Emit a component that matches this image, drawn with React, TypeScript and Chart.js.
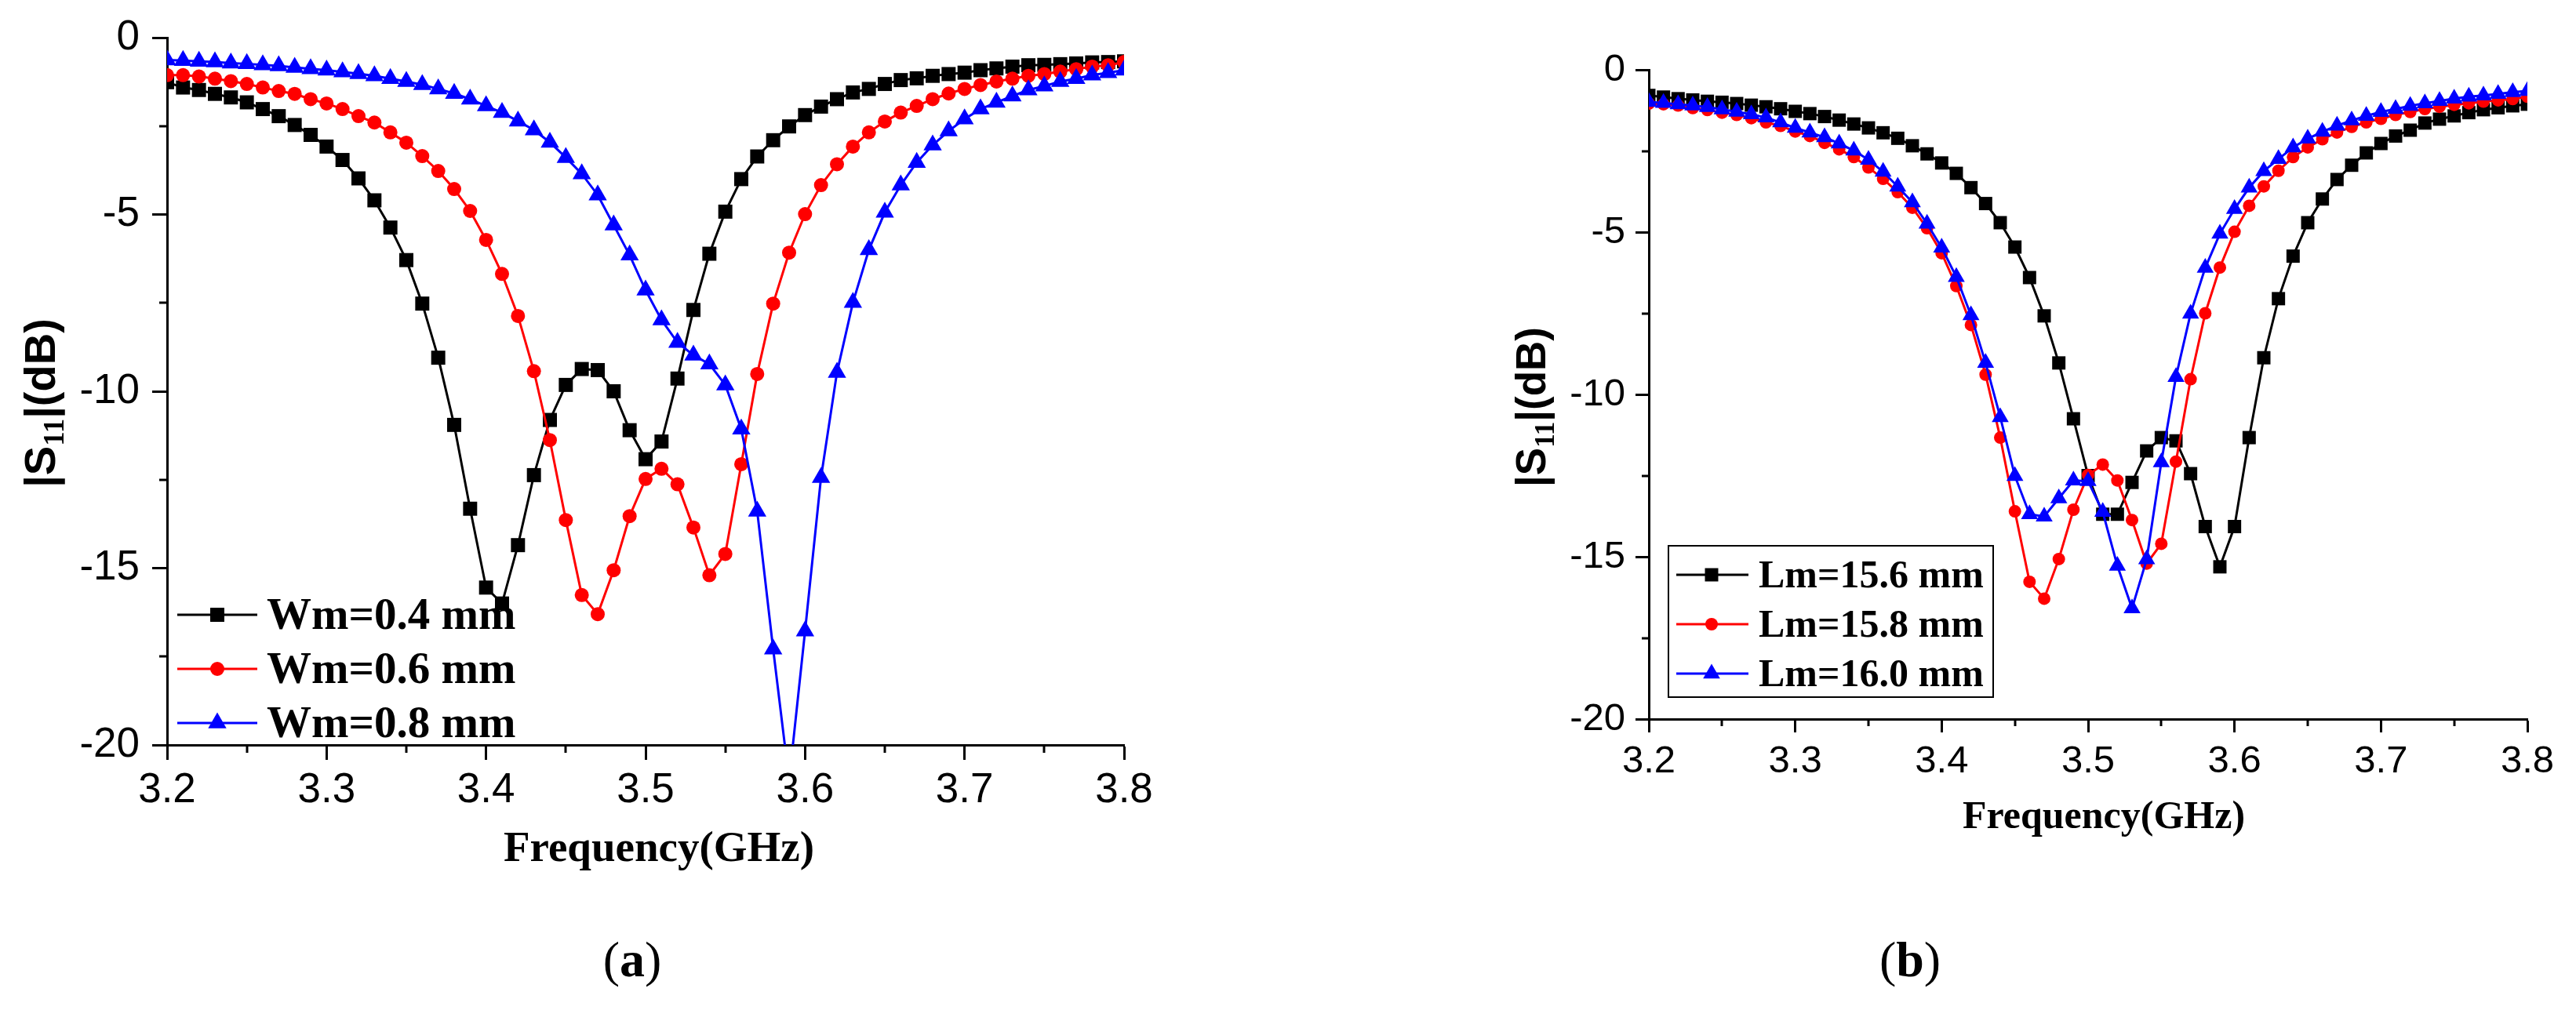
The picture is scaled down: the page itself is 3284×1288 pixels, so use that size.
import React, { useEffect, useRef } from 'react';
import { Chart, registerables } from 'chart.js';

Chart.register(...registerables);

// ---------------- data ----------------
const FREQ_GHZ = [
  3.20, 3.21, 3.22, 3.23, 3.24, 3.25, 3.26, 3.27, 3.28, 3.29,
  3.30, 3.31, 3.32, 3.33, 3.34, 3.35, 3.36, 3.37, 3.38, 3.39,
  3.40, 3.41, 3.42, 3.43, 3.44, 3.45, 3.46, 3.47, 3.48, 3.49,
  3.50, 3.51, 3.52, 3.53, 3.54, 3.55, 3.56, 3.57, 3.58, 3.59,
  3.60, 3.61, 3.62, 3.63, 3.64, 3.65, 3.66, 3.67, 3.68, 3.69,
  3.70, 3.71, 3.72, 3.73, 3.74, 3.75, 3.76, 3.77, 3.78, 3.79, 3.80,
];

const X_TICK_VALUES = [3.2, 3.3, 3.4, 3.5, 3.6, 3.7, 3.8];
const X_TICK_LABELS = ['3.2', '3.3', '3.4', '3.5', '3.6', '3.7', '3.8'];
const X_MINOR_TICKS = [3.25, 3.35, 3.45, 3.55, 3.65, 3.75];
const Y_TICK_VALUES = [0, -5, -10, -15, -20];
const Y_TICK_LABELS = ['0', '-5', '-10', '-15', '-20'];
const Y_MINOR_TICKS = [-2.5, -7.5, -12.5, -17.5];

const X_AXIS_TITLE = 'Frequency(GHz)';
const CAPTIONS = ['a', 'b'];

// (a) strip width Wm
const WM_LABELS = ['Wm=0.4 mm', 'Wm=0.6 mm', 'Wm=0.8 mm'];
const S11_WM_04 = [
  -1.26, -1.41, -1.48, -1.59, -1.69, -1.83, -2.02, -2.22, -2.47, -2.75,
  -3.08, -3.46, -3.98, -4.60, -5.37, -6.29, -7.52, -9.05, -10.95, -13.32,
  -15.55, -16.00, -14.35, -12.37, -10.81, -9.82, -9.37, -9.40, -10.00, -11.10,
  -11.92, -11.42, -9.64, -7.70, -6.11, -4.92, -4.00, -3.36, -2.90, -2.51,
  -2.19, -1.95, -1.74, -1.55, -1.45, -1.31, -1.20, -1.15, -1.08, -1.03,
  -0.99, -0.92, -0.87, -0.82, -0.78, -0.77, -0.75, -0.73, -0.70, -0.69, -0.67,
];
const S11_WM_06 = [
  -1.06, -1.06, -1.10, -1.16, -1.23, -1.31, -1.41, -1.51, -1.59, -1.74,
  -1.86, -2.02, -2.22, -2.40, -2.68, -2.97, -3.35, -3.77, -4.28, -4.90,
  -5.72, -6.68, -7.87, -9.43, -11.38, -13.64, -15.76, -16.30, -15.06, -13.53,
  -12.48, -12.19, -12.63, -13.85, -15.20, -14.60, -12.06, -9.51, -7.52, -6.08,
  -4.99, -4.17, -3.58, -3.08, -2.68, -2.37, -2.12, -1.93, -1.74, -1.58,
  -1.45, -1.34, -1.24, -1.16, -1.08, -1.03, -0.96, -0.89, -0.82, -0.78, -0.69,
];
const S11_WM_08 = [
  -0.63, -0.65, -0.67, -0.69, -0.72, -0.74, -0.77, -0.80, -0.84, -0.88,
  -0.92, -0.97, -1.02, -1.08, -1.16, -1.24, -1.33, -1.45, -1.58, -1.74,
  -1.93, -2.12, -2.36, -2.61, -2.96, -3.39, -3.85, -4.45, -5.30, -6.15,
  -7.14, -7.98, -8.62, -8.98, -9.23, -9.82, -11.07, -13.39, -17.29, -21.00,
  -16.78, -12.44, -9.47, -7.49, -6.00, -4.94, -4.17, -3.53, -3.04, -2.64,
  -2.30, -2.02, -1.83, -1.65, -1.48, -1.37, -1.24, -1.16, -1.06, -0.99, -0.92,
];

// (b) strip length Lm
const LM_LABELS = ['Lm=15.6 mm', 'Lm=15.8 mm', 'Lm=16.0 mm'];
const S11_LM_156 = [
  -0.79, -0.84, -0.89, -0.93, -0.97, -1.00, -1.04, -1.09, -1.14, -1.20,
  -1.28, -1.35, -1.44, -1.55, -1.67, -1.79, -1.94, -2.11, -2.34, -2.59,
  -2.87, -3.19, -3.63, -4.12, -4.71, -5.46, -6.40, -7.58, -9.03, -10.75,
  -12.50, -13.69, -13.69, -12.71, -11.74, -11.33, -11.43, -12.44, -14.07, -15.31,
  -14.07, -11.33, -8.87, -7.05, -5.74, -4.71, -3.98, -3.38, -2.94, -2.56,
  -2.27, -2.04, -1.86, -1.64, -1.52, -1.42, -1.32, -1.23, -1.17, -1.11, -1.06,
];
const S11_LM_158 = [
  -1.04, -1.06, -1.10, -1.18, -1.24, -1.32, -1.39, -1.49, -1.62, -1.73,
  -1.90, -2.04, -2.25, -2.45, -2.69, -3.01, -3.36, -3.77, -4.25, -4.88,
  -5.65, -6.66, -7.86, -9.39, -11.33, -13.60, -15.77, -16.29, -15.07, -13.55,
  -12.48, -12.16, -12.65, -13.87, -15.21, -14.60, -12.07, -9.53, -7.50, -6.09,
  -4.99, -4.19, -3.59, -3.11, -2.69, -2.39, -2.14, -1.93, -1.76, -1.62,
  -1.51, -1.39, -1.30, -1.21, -1.14, -1.08, -1.03, -0.98, -0.94, -0.90, -0.83,
];
const S11_LM_160 = [
  -0.99, -1.02, -1.06, -1.10, -1.15, -1.22, -1.29, -1.37, -1.47, -1.62,
  -1.79, -1.93, -2.08, -2.27, -2.49, -2.77, -3.14, -3.60, -4.08, -4.74,
  -5.48, -6.38, -7.56, -9.03, -10.70, -12.51, -13.69, -13.76, -13.20, -12.65,
  -12.67, -13.62, -15.28, -16.59, -15.08, -12.09, -9.46, -7.51, -6.10, -5.05,
  -4.29, -3.63, -3.12, -2.75, -2.39, -2.12, -1.91, -1.72, -1.56, -1.42,
  -1.30, -1.21, -1.11, -1.03, -0.96, -0.89, -0.83, -0.79, -0.74, -0.69, -0.65,
];

const SERIES_COLORS = ['#000000', '#ff0000', '#0000ff'];
const SERIES_MARKERS = ['rect', 'circle', 'triangle'];

// ---------------- layout ----------------
const SANS = "'Liberation Sans', Arial, sans-serif";
const SERIF = "'Liberation Serif', 'Times New Roman', serif";
const X_AXIS_H = 100;

interface Panel {
  canvasLeft: number;
  canvasTop: number;
  width: number;
  height: number;
  area: { left: number; right: number; top: number; bottom: number };
  tickFont: number;
  tickLen: number;
  minorLen: number;
  xPad: number;
  yPad: number;
  axisWidth: number;
  lineWidth: number;
  markerR: number[];
  xTitle: { x: number; y: number; size: number };
  yTitle: { x: number; y: number; size: number };
  legend: {
    rows: number[];
    lineX1: number;
    lineX2: number;
    markerX: number;
    textX: number;
    size: number;
    baseOff: number;
    box?: { l: number; t: number; r: number; b: number };
  };
  labels: string[];
  series: number[][];
}

const PANEL_A: Panel = {
  canvasLeft: 0,
  canvasTop: 0,
  width: 1600,
  height: 1140,
  area: { left: 213, right: 1433, top: 48, bottom: 950 },
  tickFont: 53,
  tickLen: 19,
  minorLen: 10,
  xPad: 8,
  yPad: 16,
  axisWidth: 3,
  lineWidth: 3,
  markerR: [12.7, 9, 13.5],
  xTitle: { x: 840, y: 1098, size: 55 },
  yTitle: { x: 70, y: 514, size: 56 },
  legend: {
    rows: [784, 853, 922],
    lineX1: 226,
    lineX2: 328,
    markerX: 277,
    textX: 340,
    size: 57,
    baseOff: 18,
  },
  labels: WM_LABELS,
  series: [S11_WM_04, S11_WM_06, S11_WM_08],
};

const PANEL_B: Panel = {
  canvasLeft: 1900,
  canvasTop: 0,
  width: 1384,
  height: 1140,
  area: { left: 2102, right: 3222, top: 89, bottom: 917 },
  tickFont: 49,
  tickLen: 17,
  minorLen: 9,
  xPad: 8,
  yPad: 13,
  axisWidth: 3,
  lineWidth: 3,
  markerR: [12, 8, 12.5],
  xTitle: { x: 2682, y: 1056, size: 50 },
  yTitle: { x: 1970, y: 519, size: 53 },
  legend: {
    rows: [733, 796, 859],
    lineX1: 2137,
    lineX2: 2229,
    markerX: 2182,
    textX: 2242,
    size: 50,
    baseOff: 16,
    box: { l: 2127, t: 696, r: 2541, b: 889 },
  },
  labels: LM_LABELS,
  series: [S11_LM_156, S11_LM_158, S11_LM_160],
};

function drawMarker(ctx: CanvasRenderingContext2D, style: string, x: number, y: number, r: number, color: string) {
  ctx.fillStyle = color;
  ctx.beginPath();
  if (style === 'rect') {
    const s = r * Math.SQRT1_2;
    ctx.rect(x - s, y - s, 2 * s, 2 * s);
  } else if (style === 'circle') {
    ctx.arc(x, y, r, 0, Math.PI * 2);
  } else {
    let a = 0;
    ctx.moveTo(x + Math.sin(a) * r, y - Math.cos(a) * r);
    a += (2 * Math.PI) / 3;
    ctx.lineTo(x + Math.sin(a) * r, y - Math.cos(a) * r);
    a += (2 * Math.PI) / 3;
    ctx.lineTo(x + Math.sin(a) * r, y - Math.cos(a) * r);
    ctx.closePath();
  }
  ctx.fill();
}

function makeOverlay(p: Panel) {
  return {
    id: 'overlay',
    afterDraw(chart: any) {
      const ctx: CanvasRenderingContext2D = chart.ctx;
      const xs = chart.scales.x;
      const ys = chart.scales.y;
      const ca = chart.chartArea;
      const ox = p.canvasLeft;
      const oy = p.canvasTop;
      ctx.save();
      // minor ticks
      ctx.strokeStyle = '#000';
      ctx.lineWidth = p.axisWidth;
      ctx.lineCap = 'butt';
      X_MINOR_TICKS.forEach((v) => {
        const px = Math.round(xs.getPixelForValue(v));
        ctx.beginPath();
        ctx.moveTo(px, ca.bottom);
        ctx.lineTo(px, ca.bottom + p.minorLen);
        ctx.stroke();
      });
      Y_MINOR_TICKS.forEach((v) => {
        const py = Math.round(ys.getPixelForValue(v));
        ctx.beginPath();
        ctx.moveTo(ca.left, py);
        ctx.lineTo(ca.left - p.minorLen, py);
        ctx.stroke();
      });

      // x-axis title
      ctx.fillStyle = '#000';
      ctx.font = `bold ${p.xTitle.size}px ${SERIF}`;
      ctx.textAlign = 'center';
      ctx.textBaseline = 'alphabetic';
      ctx.fillText(X_AXIS_TITLE, p.xTitle.x - ox, p.xTitle.y - oy);

      // y-axis title |S11|(dB) with subscript
      const sz = p.yTitle.size;
      const segs = [
        { t: '|', f: `bold ${sz}px ${SANS}`, dy: 0 },
        { t: 'S', f: `bold ${sz}px ${SANS}`, dy: 0 },
        { t: '11', f: `bold ${Math.round(sz * 0.66)}px ${SERIF}`, dy: sz * 0.2 },
        { t: '|(dB)', f: `bold ${sz}px ${SANS}`, dy: 0 },
      ];
      let total = 0;
      const widths = segs.map((s) => {
        ctx.font = s.f;
        const w = ctx.measureText(s.t).width;
        total += w;
        return w;
      });
      ctx.translate(p.yTitle.x - ox, p.yTitle.y - oy);
      ctx.rotate(-Math.PI / 2);
      ctx.textAlign = 'left';
      let cx = -total / 2;
      segs.forEach((s, i) => {
        ctx.font = s.f;
        ctx.fillText(s.t, cx, s.dy);
        cx += widths[i];
      });
      ctx.setTransform(1, 0, 0, 1, 0, 0);

      // legend
      const lg = p.legend;
      if (lg.box) {
        ctx.strokeStyle = '#000';
        ctx.lineWidth = 2;
        ctx.strokeRect(lg.box.l - ox, lg.box.t - oy, lg.box.r - lg.box.l, lg.box.b - lg.box.t);
      }
      p.labels.forEach((lab, i) => {
        const y = lg.rows[i] - oy;
        ctx.strokeStyle = SERIES_COLORS[i];
        ctx.lineWidth = p.lineWidth;
        ctx.beginPath();
        ctx.moveTo(lg.lineX1 - ox, y);
        ctx.lineTo(lg.lineX2 - ox, y);
        ctx.stroke();
        drawMarker(ctx, SERIES_MARKERS[i], lg.markerX - ox, y, p.markerR[i], SERIES_COLORS[i]);
        ctx.fillStyle = '#000';
        ctx.font = `bold ${lg.size}px ${SERIF}`;
        ctx.textAlign = 'left';
        ctx.textBaseline = 'alphabetic';
        ctx.fillText(lab, lg.textX - ox, y + lg.baseOff);
      });
      ctx.restore();
    },
  };
}

function buildChart(canvas: HTMLCanvasElement, p: Panel) {
  const yAxisW = p.area.left - p.canvasLeft;
  return new Chart(canvas, {
    type: 'line',
    data: {
      datasets: p.series.map((d, i) => ({
        label: p.labels[i],
        data: FREQ_GHZ.map((f, k) => ({ x: f, y: d[k] })),
        borderColor: SERIES_COLORS[i],
        backgroundColor: SERIES_COLORS[i],
        borderWidth: p.lineWidth,
        pointStyle: SERIES_MARKERS[i] as any,
        pointRadius: p.markerR[i],
        pointHoverRadius: p.markerR[i],
        pointBorderWidth: 0,
        pointBackgroundColor: SERIES_COLORS[i],
        tension: 0,
        clip: 0,
        order: 2 - i,
      })),
    },
    options: {
      responsive: false,
      animation: false,
      devicePixelRatio: 1,
      events: [],
      layout: {
        padding: {
          left: 0,
          top: p.area.top - p.canvasTop,
          right: p.canvasLeft + p.width - p.area.right,
          bottom: p.canvasTop + p.height - p.area.bottom - X_AXIS_H,
        },
      },
      plugins: {
        legend: { display: false },
        tooltip: { enabled: false },
        title: { display: false },
      },
      scales: {
        x: {
          type: 'linear',
          min: 3.2,
          max: 3.8,
          afterBuildTicks: (s: any) => {
            s.ticks = X_TICK_VALUES.map((value) => ({ value }));
          },
          afterFit: (s: any) => {
            s.height = X_AXIS_H;
          },
          ticks: {
            autoSkip: false,
            maxRotation: 0,
            padding: p.xPad,
            color: '#000',
            font: { family: SANS, size: p.tickFont, weight: 'normal' },
            callback: (v: any) => X_TICK_LABELS[X_TICK_VALUES.indexOf(Number(v))] ?? '',
          },
          grid: {
            drawOnChartArea: false,
            drawTicks: true,
            tickLength: p.tickLen,
            tickWidth: p.axisWidth,
            tickColor: '#000',
          },
          border: { display: true, color: '#000', width: p.axisWidth },
        },
        y: {
          type: 'linear',
          min: -20,
          max: 0,
          afterBuildTicks: (s: any) => {
            s.ticks = Y_TICK_VALUES.map((value) => ({ value }));
          },
          afterFit: (s: any) => {
            s.width = yAxisW;
          },
          ticks: {
            autoSkip: false,
            padding: p.yPad,
            color: '#000',
            font: { family: SANS, size: p.tickFont, weight: 'normal' },
            callback: (v: any) => Y_TICK_LABELS[Y_TICK_VALUES.indexOf(Number(v))] ?? '',
          },
          grid: {
            drawOnChartArea: false,
            drawTicks: true,
            tickLength: p.tickLen,
            tickWidth: p.axisWidth,
            tickColor: '#000',
          },
          border: { display: true, color: '#000', width: p.axisWidth },
        },
      },
    } as any,
    plugins: [makeOverlay(p)],
  });
}

function ChartCanvas({ panel }: { panel: Panel }) {
  const ref = useRef<HTMLCanvasElement | null>(null);
  useEffect(() => {
    if (!ref.current) return;
    const chart = buildChart(ref.current, panel);
    return () => chart.destroy();
  }, [panel]);
  return (
    <canvas
      ref={ref}
      width={panel.width}
      height={panel.height}
      style={{
        position: 'absolute',
        left: panel.canvasLeft,
        top: panel.canvasTop,
        width: panel.width,
        height: panel.height,
      }}
    />
  );
}

const captionStyle = (x: number): React.CSSProperties => ({
  position: 'absolute',
  left: x,
  top: 1192,
  transform: 'translateX(-50%)',
  fontFamily: SERIF,
  fontSize: 64,
  lineHeight: '64px',
  color: '#000',
  whiteSpace: 'nowrap',
});

export default function App() {
  return (
    <div
      style={{
        position: 'absolute',
        left: 0,
        top: 0,
        width: 3284,
        height: 1288,
        background: '#ffffff',
        overflow: 'hidden',
      }}
    >
      <ChartCanvas panel={PANEL_A} />
      <ChartCanvas panel={PANEL_B} />
      <div style={captionStyle(806)}>
        (<b>{CAPTIONS[0]}</b>)
      </div>
      <div style={captionStyle(2435)}>
        (<b>{CAPTIONS[1]}</b>)
      </div>
    </div>
  );
}
